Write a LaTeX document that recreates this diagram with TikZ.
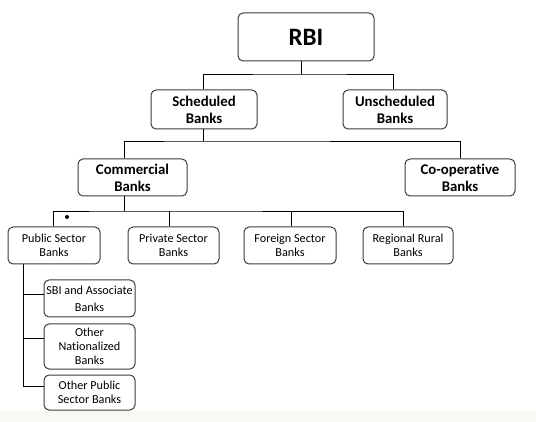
\documentclass[tikz,border=0pt]{standalone}
\usepackage{fontspec}
\setmainfont{Carlito}[Ligatures=NoCommon]
\usetikzlibrary{calc}
\definecolor{strip}{RGB}{249,248,242}
\definecolor{boxline}{RGB}{60,60,60}
\tikzset{
  bx/.style={draw=boxline, line width=1pt, rounded corners=5pt, inner sep=0pt, align=center, fill=white},
  big/.style={bx, font=\fontsize{25}{30}\selectfont\bfseries},
  mid/.style={bx, font=\fontsize{14.8}{17}\selectfont\bfseries},
  sml/.style={bx, font=\fontsize{12.2}{14.3}\selectfont},
  conn/.style={line width=0.9pt, black}
}
\begin{document}
\begin{tikzpicture}[x=1pt,y=-1pt]
\useasboundingbox (0,0) rectangle (536,422);
\fill[strip] (0,411) rectangle (536,422);
% nodes
\node[big, minimum width=136, minimum height=48] (rbi) at (306,37) {RBI};
\node[mid, minimum width=106, minimum height=39] (sch) at (204,109.5) {Scheduled\\Banks};
\node[mid, minimum width=104, minimum height=39] (uns) at (395,109.5) {Unscheduled\\Banks};
\node[mid, minimum width=109, minimum height=37] (com) at (132.5,177.5) {Commercial\\Banks};
\node[mid, minimum width=110, minimum height=37] (coop) at (460,177.5) {Co-operative\\Banks};
\node[sml, minimum width=92, minimum height=37] (pub) at (54,245.5) {Public Sector\\Banks};
\node[sml, minimum width=91, minimum height=37] (pri) at (173.5,245.5) {Private Sector\\Banks};
\node[sml, minimum width=92, minimum height=37] (for) at (290,245.5) {Foreign Sector\\Banks};
\node[sml, minimum width=90, minimum height=37] (reg) at (408,245.5) {Regional Rural\\Banks};
\node[sml, font=\fontsize{12.2}{17}\selectfont, minimum width=91, minimum height=37] (sbi) at (89.5,298.5) {SBI and Associate\\Banks};
\node[sml, minimum width=91, minimum height=45] (oth) at (89.5,346.5) {Other\\Nationalized\\Banks};
\node[sml, minimum width=91, minimum height=35] (opub) at (89.5,392.5) {Other Public\\Sector Banks};
% level 1
\coordinate (j1) at (301,74);
\draw[conn] ([xshift=-5pt]rbi.south) -- (j1);
\draw[conn] ([xshift=-1pt]sch.north) |- (j1) -| ([xshift=-2pt]uns.north);
% level 2
\coordinate (j2) at (203,141);
\draw[conn] ([xshift=-1pt]sch.south) -- (j2);
\draw[conn] ([xshift=-8.5pt]com.north) |- (j2) -| (coop.north);
% level 3
\coordinate (j3) at (124,211);
\draw[conn] ([xshift=-8.5pt]com.south) -- (j3);
\draw[conn] ([xshift=-1pt]pub.north) |- (j3) -| ([xshift=-5pt]reg.north);
\coordinate (p1) at ([xshift=-4.5pt]pri.north);
\coordinate (f1) at ([xshift=1pt]for.north);
\draw[conn] (p1) -- (p1 |- j3);
\draw[conn] (f1) -- (f1 |- j3);
\fill (67,217) circle (2);
% level 4
\coordinate (t) at ([xshift=-31pt]pub.south);
\coordinate (s1) at ([yshift=4.5pt]sbi.west);
\coordinate (s2) at ([yshift=8.5pt]oth.west);
\coordinate (s3) at ([yshift=6.5pt]opub.west);
\draw[conn] (t) |- (s3);
\draw[conn] (s1 -| t) -- (s1);
\draw[conn] (s2 -| t) -- (s2);
\end{tikzpicture}
\end{document}
